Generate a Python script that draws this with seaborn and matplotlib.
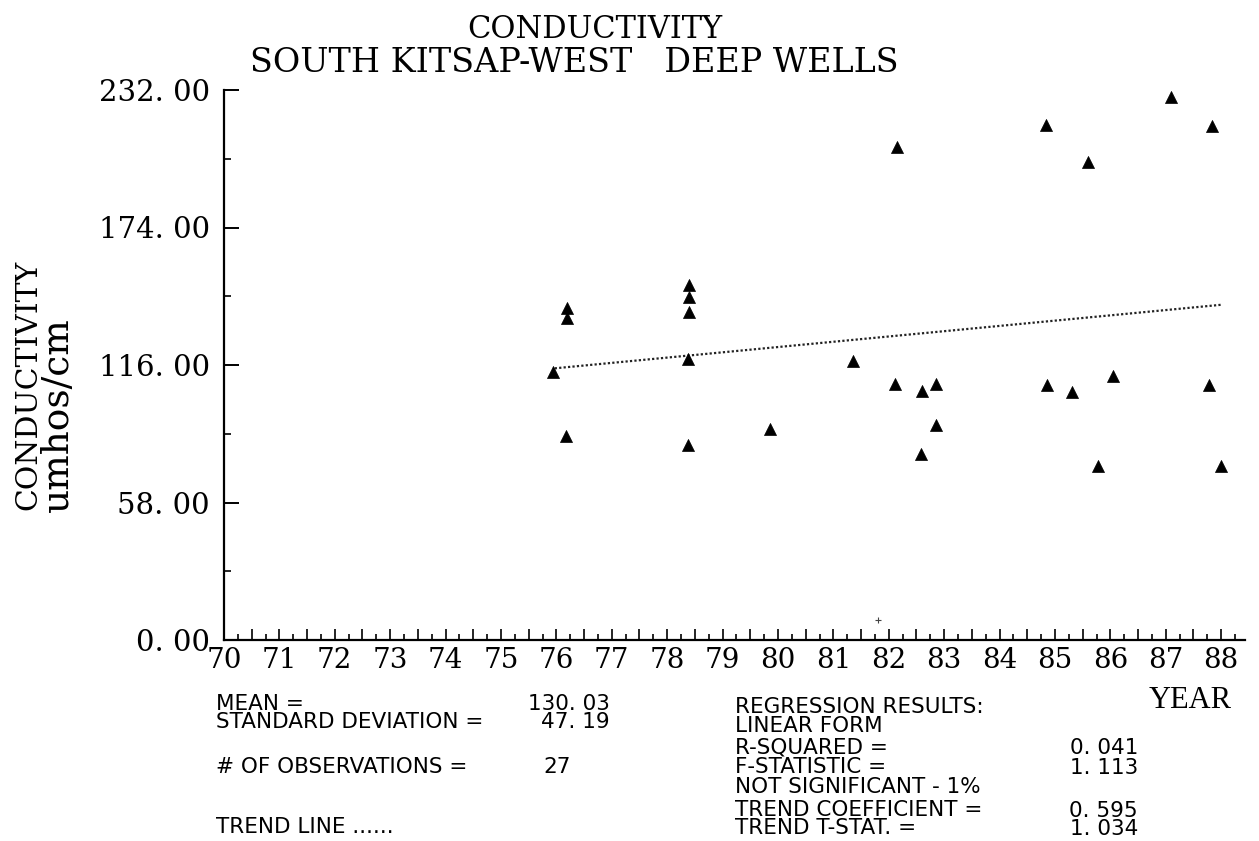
import numpy as np
import pandas as pd
import matplotlib
matplotlib.use("Agg")
import matplotlib.pyplot as plt
import matplotlib.ticker as mticker
import seaborn as sns


# values
years = [75.94, 76.19, 76.19, 76.17, 78.39, 78.39, 78.39, 78.38, 78.38,
         79.86, 81.35, 82.15, 82.11, 82.60, 82.85, 82.58, 82.85,
         84.84, 84.86, 85.31, 85.60, 85.78, 86.05, 87.09, 87.83, 87.78, 88.00]
conductivity = [113.1, 140.1, 135.9, 86.1, 149.8, 144.7, 138.4, 118.6, 82.3,
                89.0, 117.7, 208.0, 108.0, 105.1, 108.0, 78.5, 90.7,
                217.3, 107.6, 104.6, 201.7, 73.4, 111.4, 229.1, 216.9, 107.6, 73.4]

trend_years = [75.97, 88.0]
trend_values = [114.6, 141.4]

stray_years = [81.8]
stray_values = [8.4]

y_ticks = [0, 58, 116, 174, 232]
x_years = list(range(70, 89))

stats_left = [("MEAN =", "130. 03"), ("STANDARD DEVIATION =", "47. 19"),
              ("# OF OBSERVATIONS =", "27"), ("TREND LINE ......", "")]
stats_right = [("REGRESSION RESULTS:", ""), ("LINEAR FORM", ""),
               ("R-SQUARED =", "0. 041"), ("F-STATISTIC =", "1. 113"),
               ("NOT SIGNIFICANT - 1%", ""), ("TREND COEFFICIENT =", "0. 595"),
               ("TREND T-STAT. =", "1. 034")]

df = pd.DataFrame({"year": years, "value": conductivity})
trend = pd.DataFrame({"year": trend_years, "value": trend_values})

sns.set_style("ticks")
plt.rcParams['font.family'] = ['DejaVu Serif', 'DejaVu Sans']
plt.rcParams['text.color'] = 'black'
plt.rcParams['xtick.color'] = 'black'
plt.rcParams['ytick.color'] = 'black'

W, H = 1259, 841
fig = plt.figure(figsize=(W / 100, H / 100), dpi=100)
fig.patch.set_facecolor("white")


def px(x, y):
    return x / W, 1 - y / H


ax = fig.add_axes([224 / W, 1 - 640 / H, (1245 - 224) / W, (640 - 90) / H])

sns.scatterplot(data=df, x="year", y="value", marker="^", s=75, color="black",
                edgecolor="black", linewidth=0.5, ax=ax, legend=False, zorder=3)
sns.lineplot(data=trend, x="year", y="value", color="#222222", linestyle=(0, (1, 1)),
             linewidth=1.6, ax=ax, legend=False)
ax.scatter(stray_years, stray_values, marker="+", s=14, color="#444444", linewidths=0.8)

ax.set_xlim(70, 88.43)
ax.set_ylim(0, 232)
sns.despine(ax=ax, top=True, right=True)
for side in ["left", "bottom"]:
    ax.spines[side].set_linewidth(1.6)
    ax.spines[side].set_color("black")

ax.xaxis.set_major_locator(mticker.MultipleLocator(0.5))
ax.xaxis.set_minor_locator(mticker.MultipleLocator(0.25))
ax.xaxis.set_major_formatter(mticker.FuncFormatter(
    lambda v, p: f"{int(round(v))}" if abs(v - round(v)) < 1e-6 and int(round(v)) in x_years else ""))
ax.set_yticks(y_ticks)
ax.set_yticklabels([f"{v:.2f}".replace(".", ". ") for v in y_ticks])
ax.yaxis.set_minor_locator(mticker.MultipleLocator(29))

ax.tick_params(axis="x", which="major", direction="in", length=8, width=1.2,
               labelsize=20, pad=5)
ax.tick_params(axis="x", which="minor", direction="in", length=4, width=1.2)
ax.tick_params(axis="y", which="major", direction="in", length=11, width=1.4,
               labelsize=21, pad=10)
ax.tick_params(axis="y", which="minor", direction="in", length=5, width=1.2)
ax.set_xlabel("")
ax.set_ylabel("")

# titles
fig.text(*px(595, 30), "CONDUCTIVITY", family="DejaVu Serif", fontsize=22,
         ha="center", va="center")
fig.text(*px(574, 63), "SOUTH KITSAP-WEST   DEEP WELLS", family="DejaVu Serif",
         fontsize=24, ha="center", va="center")

# y axis label
fig.text(*px(28, 510), "CONDUCTIVITY", family="DejaVu Serif", fontsize=21.5,
         rotation=90, ha="center", va="bottom")
fig.text(*px(58, 512), "umhos/cm", family="DejaVu Serif", fontsize=27,
         rotation=90, ha="center", va="bottom")

fig.text(*px(1232, 700), "YEAR", family="Liberation Serif", fontsize=22,
         ha="right", va="center")

# statistics block
stat_font = dict(family="DejaVu Sans", fontsize=15.5, va="center")
left_rows = [704, 722, 767, 827]
for (label, value), y in zip(stats_left, left_rows):
    fig.text(*px(216, y), label, ha="left", **stat_font)
    if value:
        fig.text(*px(610 if len(value) > 2 else 543, y), value,
                 ha="right" if len(value) > 2 else "left", **stat_font)

right_rows = [707, 726, 747, 767, 787, 810, 828]
for (label, value), y in zip(stats_right, right_rows):
    fig.text(*px(735, y), label, ha="left", **stat_font)
    if value:
        fig.text(*px(1138, y + 1), value, ha="right", **stat_font)

plt.savefig("out.png", dpi=100, facecolor="white")
